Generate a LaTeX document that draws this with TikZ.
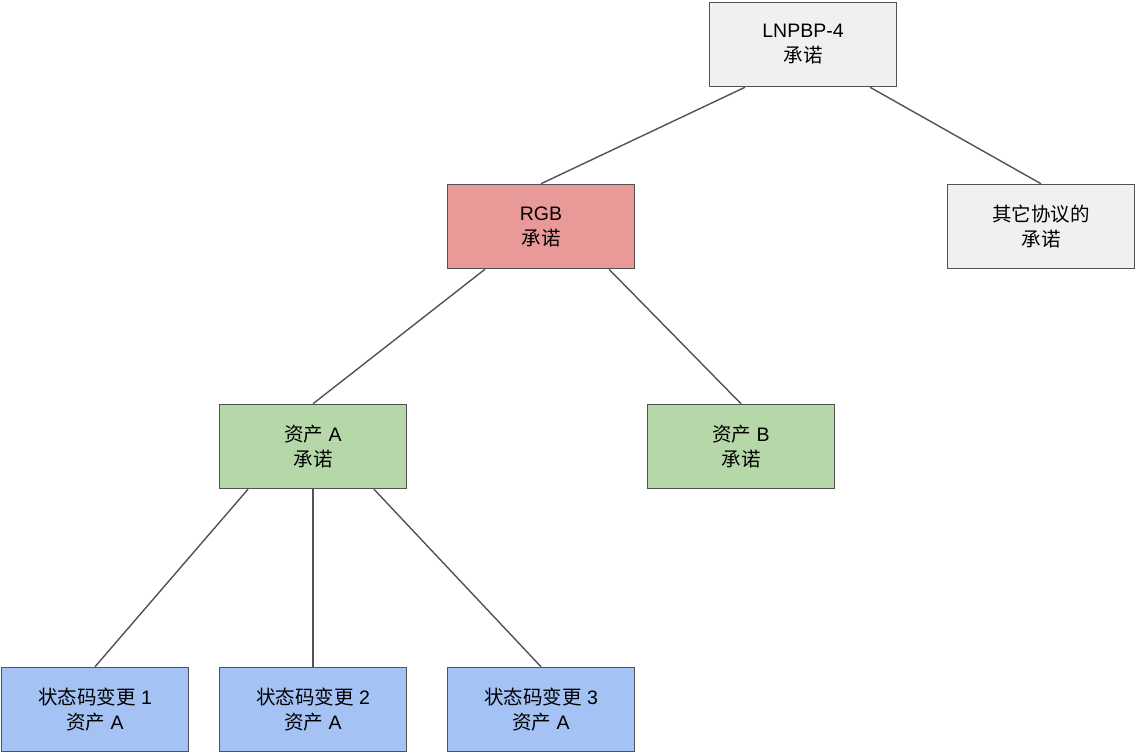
\documentclass[tikz,border=0pt]{standalone}
\usepackage{fontspec}
\setmainfont{Liberation Sans}
\newfontfamily\cjk{Noto Sans CJK SC}
\begin{document}
\begin{tikzpicture}[x=1pt,y=-1pt,
  box/.style={draw=black!68,line width=1.5pt,minimum width=187pt,minimum height=84pt,inner sep=0pt,align=center,font=\fontsize{19.5}{25}\selectfont},
  grey/.style={box,fill=black!6},
  pink/.style={box,fill={rgb,255:red,234;green,153;blue,153}},
  green/.style={box,fill={rgb,255:red,182;green,215;blue,168}},
  blue/.style={box,fill={rgb,255:red,164;green,194;blue,244}},
  link/.style={draw=black!68,line width=1.4pt}]
\useasboundingbox (0,0) rectangle (1136,754);
\node[grey] (lnp) at (803,44.5) {LNPBP-4\\{\cjk 承诺}};
\node[pink] (rgb) at (541,226.5) {RGB\\{\cjk 承诺}};
\node[grey] (oth) at (1041,226.5) {{\cjk 其它协议的}\\{\cjk 承诺}};
\node[green] (aa) at (313,446.5) {{\cjk 资产} A\\{\cjk 承诺}};
\node[green] (ab) at (741,446.5) {{\cjk 资产} B\\{\cjk 承诺}};
\node[blue] (s1) at (95,709.5) {{\cjk 状态码变更} 1\\{\cjk 资产} A};
\node[blue] (s2) at (313,709.5) {{\cjk 状态码变更} 2\\{\cjk 资产} A};
\node[blue] (s3) at (541,709.5) {{\cjk 状态码变更} 3\\{\cjk 资产} A};
\draw[link] ([xshift=-58pt]lnp.south) -- (rgb.north);
\draw[link] ([xshift=67pt]lnp.south) -- (oth.north);
\draw[link] ([xshift=-56pt]rgb.south) -- (aa.north);
\draw[link] ([xshift=68pt]rgb.south) -- (ab.north);
\draw[link] ([xshift=-65pt]aa.south) -- (s1.north);
\draw[link] (aa.south) -- (s2.north);
\draw[link] ([xshift=61pt]aa.south) -- (s3.north);
\end{tikzpicture}
\end{document}
